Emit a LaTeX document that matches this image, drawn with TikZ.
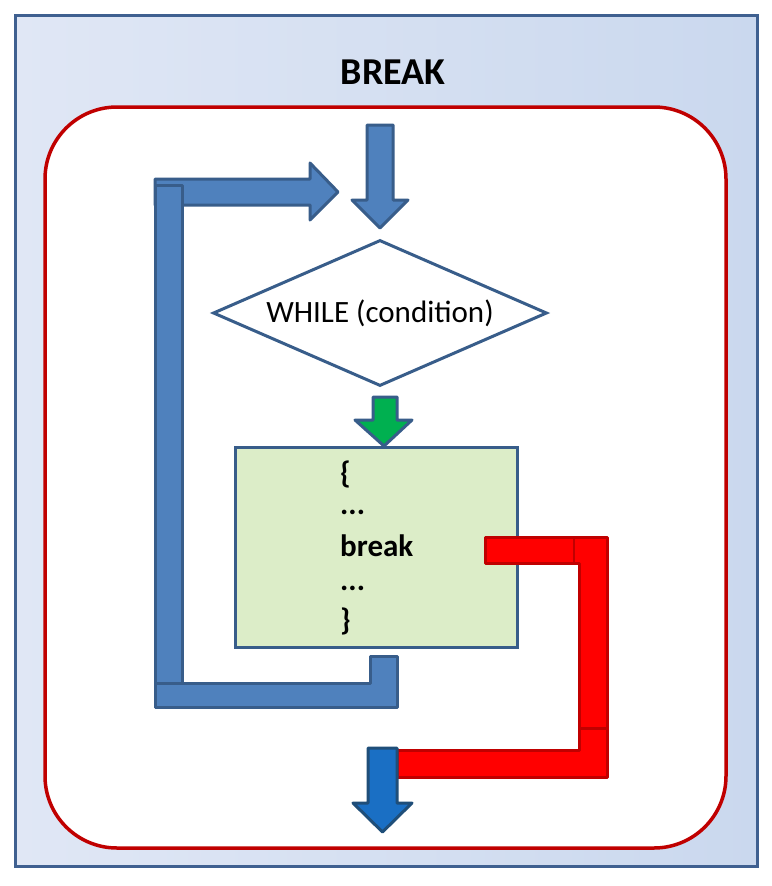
\documentclass[tikz,border=0pt]{standalone}
\usepackage{fontspec}
\setmainfont{Carlito}
\usetikzlibrary{shapes.geometric}
\definecolor{bluefill}{HTML}{4F81BD}
\definecolor{blueline}{HTML}{385D8A}
\definecolor{outerline}{HTML}{3F6090}
\definecolor{redline}{HTML}{C00000}
\definecolor{greenbox}{HTML}{DCEDC8}
\definecolor{greenarrow}{HTML}{00B050}
\definecolor{darkarrow}{HTML}{1A6FC4}
\definecolor{darkline}{HTML}{1F4E79}
\begin{document}
\begin{tikzpicture}[x=1pt,y=-1pt,
  bluearrow/.style={fill=bluefill,draw=blueline,line width=3pt,line join=round},
  redbar/.style={fill=red,draw=redline,line width=3pt,line join=round},
  codetext/.style={anchor=west,inner sep=0pt,font=\fontsize{31}{33}\selectfont\bfseries},
]
\useasboundingbox (0,0) rectangle (771,886);
% outer panel
\fill[left color={rgb,255:red,224;green,231;blue,245}, right color={rgb,255:red,202;green,216;blue,238}]
  (15,15) rectangle (757,866);
\draw[outerline, line width=3pt] (15,15) rectangle (757,866);
\node[font=\fontsize{38}{40}\selectfont\bfseries] (title) at (393,72) {BREAK};
% inner rounded frame
\draw[redline, fill=white, line width=3.5pt, rounded corners=72pt] (45,107) rectangle (726,848);
% top entry arrow
\draw[bluearrow] (367,125) -- (393,125) -- (393,200) -- (408,200) -- (380,228) -- (352,200) -- (367,200) -- cycle;
% loop back arrow (top)
\draw[bluearrow] (155,179) -- (310,179) -- (310,163) -- (338,192) -- (310,220) -- (310,205) -- (155,205) -- cycle;
% loop vertical bar
\draw[bluearrow] (155,185) rectangle (182,707);
% loop bottom part
\draw[bluearrow] (155,683) -- (370,683) -- (370,656) -- (397,656) -- (397,707) -- (155,707) -- cycle;
% condition diamond
\node[diamond, draw=blueline, fill=white, line width=3pt, inner sep=0pt, aspect=2.29,
      minimum width=334pt, minimum height=146pt] (cond) at (380,313) {};
\node[font=\fontsize{31}{33}\selectfont] (condtext) at (cond.center) {WHILE (condition)};
% green arrow
\draw[fill=greenarrow, draw=blueline, line width=3pt, line join=round]
  (373,397) -- (397,397) -- (397,420) -- (412,420) -- (384,446) -- (355,420) -- (373,420) -- cycle;
% body box
\node[draw=blueline, fill=greenbox, line width=3pt, minimum width=282pt, minimum height=200pt,
      inner sep=0pt] (body) at (376,547) {};
\node[codetext] (l1) at (340,474) {\{};
\node[codetext] (l2) at (340,512) {...};
\node[codetext] (l3) at (340,546) {break};
\node[codetext] (l4) at (340,588) {...};
\node[codetext] (l5) at (340,621) {\}};
% red break path
\draw[redbar] (485,537) -- (607,537) -- (607,728) -- (579,728) -- (579,563) -- (485,563) -- cycle;
\draw[redline, line width=2.5pt] (574,538) -- (574,562);
\draw[redbar] (397,750) -- (579,750) -- (579,728) -- (607,728) -- (607,777) -- (397,777) -- cycle;
% exit arrow
\draw[fill=darkarrow, draw=darkline, line width=3pt, line join=round]
  (368,748) -- (397,748) -- (397,803) -- (412,803) -- (382.5,832) -- (353,803) -- (368,803) -- cycle;
\end{tikzpicture}
\end{document}
